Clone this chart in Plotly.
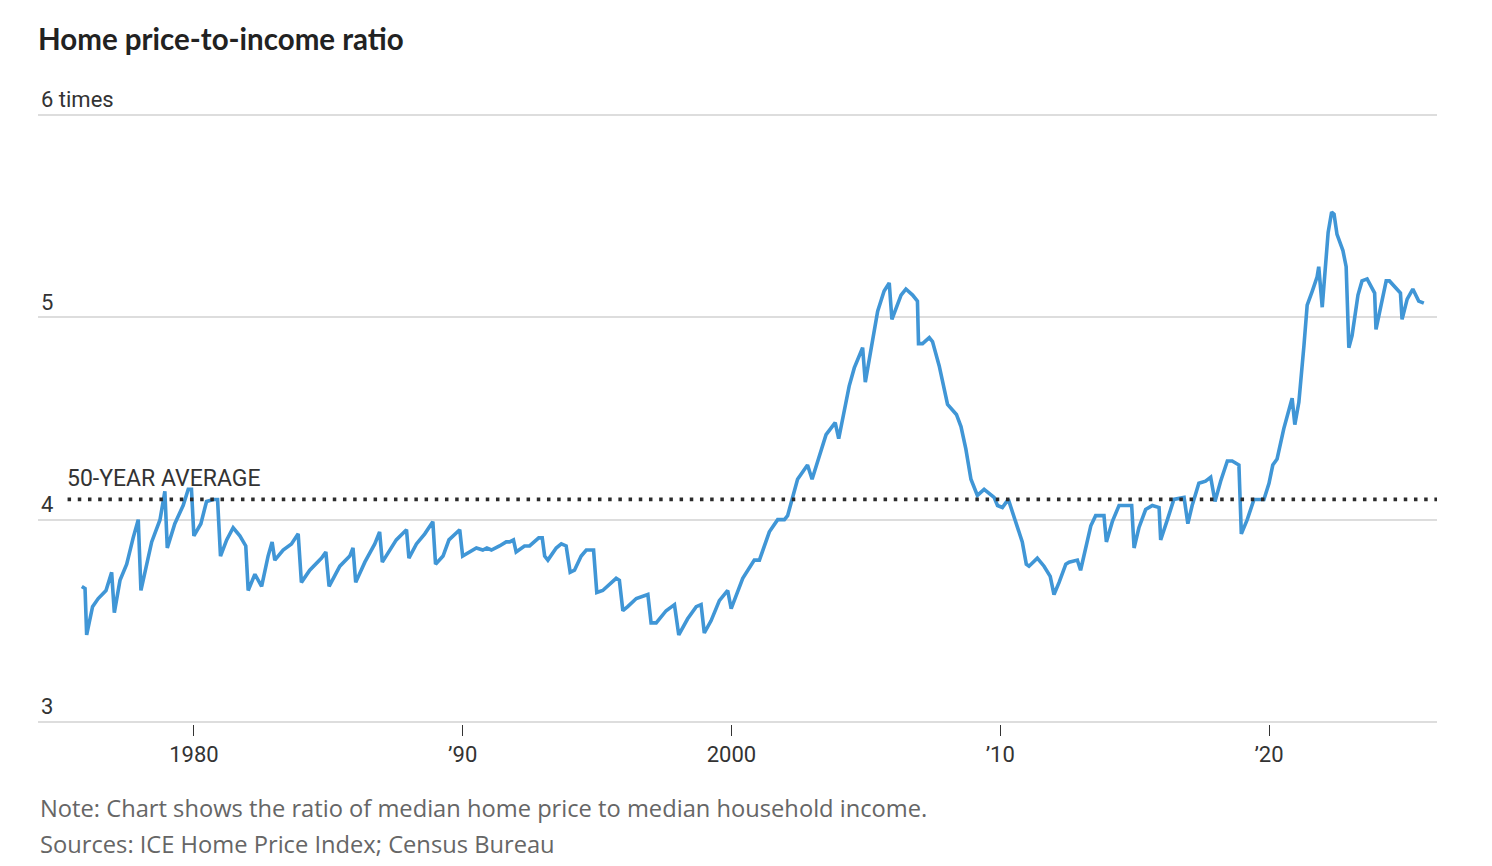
import plotly.graph_objects as go

# Ratio of median home price to median household income
years = [
    1975.83, 1975.95, 1976.01, 1976.23, 1976.44, 1976.73, 1976.94, 1977.04, 1977.25, 1977.50,
    1977.74, 1977.93, 1978.03, 1978.43, 1978.74, 1978.92, 1979.01, 1979.29, 1979.60, 1979.79,
    1979.91, 1980.00, 1980.26, 1980.47, 1980.72, 1980.88, 1980.99, 1981.22, 1981.46, 1981.71,
    1981.93, 1982.02, 1982.27, 1982.52, 1982.76, 1982.91, 1983.01, 1983.32, 1983.63, 1983.88,
    1984.00, 1984.31, 1984.75, 1984.91, 1985.03, 1985.43, 1985.80, 1985.92, 1986.02, 1986.36,
    1986.73, 1986.91, 1987.01, 1987.29, 1987.53, 1987.91, 1988.00, 1988.28, 1988.59, 1988.89,
    1988.99, 1989.27, 1989.49, 1989.89, 1990.00, 1990.51, 1990.75, 1990.90, 1991.07, 1991.37,
    1991.62, 1991.75, 1991.89, 1991.99, 1992.30, 1992.49, 1992.83, 1992.96, 1993.05, 1993.17,
    1993.48, 1993.67, 1993.85, 1994.00, 1994.16, 1994.41, 1994.60, 1994.87, 1994.99, 1995.21,
    1995.71, 1995.83, 1995.96, 1996.14, 1996.46, 1996.89, 1997.01, 1997.20, 1997.57, 1997.88,
    1998.04, 1998.37, 1998.69, 1998.87, 1998.99, 1999.24, 1999.55, 1999.86, 1999.99, 2000.42,
    2000.85, 2001.04, 2001.41, 2001.72, 2001.97, 2002.09, 2002.46, 2002.83, 2003.00, 2003.52,
    2003.86, 2003.99, 2004.38, 2004.57, 2004.88, 2004.98, 2005.44, 2005.68, 2005.87, 2005.97,
    2006.31, 2006.49, 2006.74, 2006.92, 2006.96, 2007.11, 2007.36, 2007.48, 2007.73, 2008.04,
    2008.37, 2008.54, 2008.72, 2008.91, 2009.15, 2009.40, 2009.77, 2009.90, 2010.08, 2010.30,
    2010.58, 2010.82, 2010.97, 2011.07, 2011.38, 2011.63, 2011.86, 2012.00, 2012.19, 2012.44,
    2012.56, 2012.87, 2012.99, 2013.18, 2013.37, 2013.55, 2013.86, 2013.95, 2014.17, 2014.42,
    2014.67, 2014.89, 2014.98, 2015.16, 2015.41, 2015.66, 2015.91, 2015.97, 2016.22, 2016.46,
    2016.84, 2016.98, 2017.14, 2017.39, 2017.64, 2017.83, 2017.99, 2018.20, 2018.45, 2018.63,
    2018.88, 2018.97, 2019.19, 2019.44, 2019.81, 2020.00, 2020.14, 2020.30, 2020.55, 2020.86,
    2020.96, 2021.11, 2021.30, 2021.42, 2021.61, 2021.79, 2021.85, 2021.98, 2022.20, 2022.33,
    2022.42, 2022.53, 2022.75, 2022.87, 2022.97, 2023.09, 2023.31, 2023.46, 2023.65, 2023.83,
    2023.93, 2023.98, 2024.21, 2024.36, 2024.48, 2024.68, 2024.89, 2024.95, 2025.14, 2025.35,
    2025.57, 2025.76,
]
ratio = [
    3.67, 3.66, 3.43, 3.57, 3.61, 3.65, 3.74, 3.54, 3.70, 3.78,
    3.91, 4.00, 3.65, 3.89, 4.00, 4.14, 3.86, 3.98, 4.07, 4.15,
    4.15, 3.92, 3.98, 4.09, 4.10, 4.10, 3.82, 3.90, 3.96, 3.92,
    3.87, 3.65, 3.73, 3.67, 3.82, 3.89, 3.80, 3.85, 3.88, 3.93,
    3.69, 3.75, 3.81, 3.84, 3.67, 3.77, 3.82, 3.86, 3.69, 3.79,
    3.88, 3.94, 3.79, 3.85, 3.90, 3.95, 3.81, 3.88, 3.93, 3.99,
    3.78, 3.82, 3.90, 3.95, 3.82, 3.86, 3.85, 3.86, 3.85, 3.87,
    3.89, 3.89, 3.90, 3.84, 3.87, 3.87, 3.91, 3.91, 3.82, 3.80,
    3.86, 3.88, 3.87, 3.74, 3.75, 3.82, 3.85, 3.85, 3.64, 3.65,
    3.71, 3.70, 3.55, 3.57, 3.61, 3.63, 3.49, 3.49, 3.55, 3.58,
    3.43, 3.51, 3.57, 3.58, 3.44, 3.50, 3.60, 3.65, 3.56, 3.71,
    3.80, 3.80, 3.94, 4.00, 4.00, 4.02, 4.20, 4.27, 4.20, 4.42,
    4.48, 4.40, 4.66, 4.75, 4.85, 4.68, 5.03, 5.13, 5.17, 4.99,
    5.11, 5.14, 5.11, 5.08, 4.87, 4.87, 4.90, 4.88, 4.76, 4.57,
    4.52, 4.46, 4.35, 4.20, 4.12, 4.15, 4.11, 4.07, 4.06, 4.10,
    3.98, 3.89, 3.78, 3.77, 3.81, 3.77, 3.72, 3.63, 3.69, 3.78,
    3.79, 3.80, 3.75, 3.86, 3.97, 4.02, 4.02, 3.89, 3.99, 4.07,
    4.07, 4.07, 3.86, 3.96, 4.05, 4.07, 4.06, 3.90, 4.00, 4.10,
    4.11, 3.98, 4.07, 4.18, 4.19, 4.21, 4.09, 4.19, 4.29, 4.29,
    4.27, 3.93, 4.00, 4.10, 4.10, 4.18, 4.27, 4.30, 4.45, 4.60,
    4.47, 4.58, 4.86, 5.06, 5.13, 5.20, 5.25, 5.05, 5.42, 5.52,
    5.51, 5.41, 5.33, 5.25, 4.85, 4.91, 5.11, 5.18, 5.19, 5.15,
    5.12, 4.94, 5.09, 5.18, 5.18, 5.15, 5.12, 4.99, 5.09, 5.14,
    5.08, 5.07,
]

avg_ratio = 4.1
avg_start = 1975.3

tick_years = [1980, 1990, 2000, 2010, 2020]
tick_labels = ["1980", "\u201990", "2000", "\u201910", "\u201920"]
y_ticks = [3, 4, 5, 6]
y_labels = ["3", "4", "5", "6 times"]

# la página tiene 8px de margen en el body, así que la figura es algo más chica
W, H = 1484, 858
M_L, M_R, M_T, M_B = 30, 55, 105, 142

fig = go.Figure()

fig.add_trace(go.Scatter(
    x=years, y=ratio, mode="lines",
    line=dict(color="#4096d6", width=3.6),
    hoverinfo="skip", showlegend=False,
))

# linea del promedio de 50 años
fig.add_shape(
    type="line", xref="x", yref="y",
    x0=avg_start, x1=2026.25, y0=avg_ratio, y1=avg_ratio,
    line=dict(color="#2b2b2b", width=3.8, dash="3.5px,6.7px"),
    layer="above",
)
fig.add_annotation(
    x=avg_start, y=avg_ratio, xref="x", yref="y",
    text="50-YEAR AVERAGE", showarrow=False,
    xanchor="left", yanchor="bottom", yshift=5, xshift=-3,
    font=dict(family="Roboto", size=23, color="#333333"),
)

fig.update_layout(
    width=W, height=H,
    paper_bgcolor="white", plot_bgcolor="white",
    margin=dict(l=M_L, r=M_R, t=M_T, b=M_B),
    title=dict(
        text="<b>Home price-to-income ratio</b>",
        x=M_L / W, xanchor="left", y=1 - 32 / H, yanchor="middle",
        font=dict(family="Lato", size=29.5, color="#222222"),
    ),
    xaxis=dict(
        range=[1974.2, 2026.25],
        tickvals=tick_years, ticktext=tick_labels,
        ticks="outside", ticklen=11, tickwidth=1, tickcolor="#333333",
        showgrid=False, zeroline=False, showline=False,
        tickfont=dict(family="Roboto", size=22, color="#333333"),
    ),
    yaxis=dict(
        range=[2.99, 6.01],
        tickvals=y_ticks, ticktext=y_labels,
        ticklabelposition="inside top", ticklabeloverflow="allow",
        showgrid=True, gridcolor="#dddddd", gridwidth=1.5,
        zeroline=False, showline=False, ticks="",
        tickfont=dict(family="Roboto", size=22, color="#333333"),
    ),
)

notes = [
    ("Note: Chart shows the ratio of median home price to median household income.", 800),
    ("Sources: ICE Home Price Index; Census Bureau", 836),
]
plot_h = H - M_T - M_B
for text, y_px in notes:
    fig.add_annotation(
        x=0, y=(H - M_B - y_px) / plot_h, xref="paper", yref="paper",
        text=text, showarrow=False, xanchor="left", yanchor="middle",
        font=dict(family="Open Sans", size=23.7, color="#666666"),
    )

fig.write_html("out.html")
